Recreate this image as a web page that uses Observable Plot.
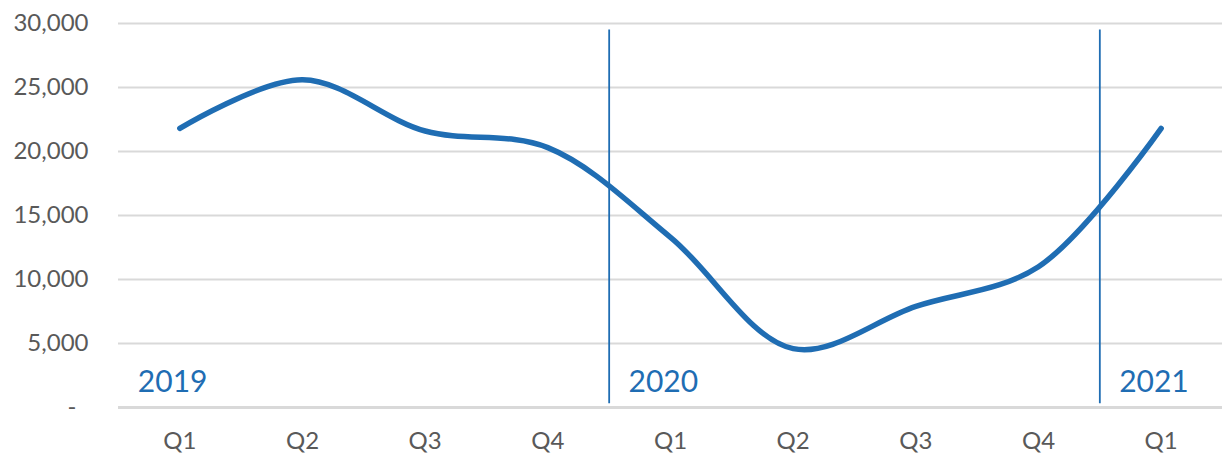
<!DOCTYPE html>
<html>
<head>
<meta charset="utf-8">
<script src="https://cdn.jsdelivr.net/npm/d3@7"></script>
<script src="https://cdn.jsdelivr.net/npm/@observablehq/plot@0.6"></script>
<style>
  html, body { margin: 0; padding: 0; background: #fff; }
  #chart svg { display: block; }
</style>
</head>
<body>
<div id="chart"></div>
<script>
const quarters = ["Q1", "Q2", "Q3", "Q4", "Q1", "Q2", "Q3", "Q4", "Q1"];
const years    = [2019, 2019, 2019, 2019, 2020, 2020, 2020, 2020, 2021];
const values   = [21800, 25600, 21600, 20300, 13300, 4600, 7900, 11000, 21800];
const yTicks   = [0, 5000, 10000, 15000, 20000, 25000, 30000];

const data = quarters.map((q, i) => ({i, q, year: years[i], value: values[i]}));
const firstOfYear = data.filter((d, i) => i === 0 || years[i] !== years[i - 1]);
const boundaries = firstOfYear.filter(d => d.i > 0).map(d => d.i - 0.5);

const blue = "#1f6db3";
const grey = "#595959";

const chart = Plot.plot({
  width: 1222,
  height: 458,
  marginLeft: 118,
  marginRight: 0,
  marginTop: 23,
  marginBottom: 51,
  style: {fontFamily: "Lato, 'Open Sans', sans-serif", fontSize: "24px", color: grey, background: "#fff"},
  x: {domain: [-0.5, quarters.length - 0.5], ticks: d3.range(quarters.length), tickFormat: i => quarters[i], tickSize: 0, tickPadding: 24, label: null},
  y: {domain: [0, 30000], ticks: yTicks, tickSize: 0, tickPadding: 30, label: null,
      tickFormat: d => d === 0 ? "-\u2002" : d3.format(",")(d)},
  marks: [
    Plot.ruleY(yTicks.filter(t => t > 0), {stroke: "#d9d9d9", strokeWidth: 2}),
    Plot.ruleY([0], {stroke: "#d9d9d9", strokeWidth: 3}),
    Plot.ruleX(boundaries, {y1: 300, y2: 29500, stroke: blue, strokeWidth: 1.8}),
    Plot.text(firstOfYear, {x: "i", y: 2000, text: d => String(d.year), dx: -42, textAnchor: "start", lineAnchor: "middle", fill: blue, fontSize: 30}),
    Plot.line(data, {x: "i", y: "value", curve: "catmull-rom", stroke: blue, strokeWidth: 5.5, strokeLinecap: "round", strokeLinejoin: "round"})
  ]
});
document.getElementById("chart").append(chart);
</script>
</body>
</html>
